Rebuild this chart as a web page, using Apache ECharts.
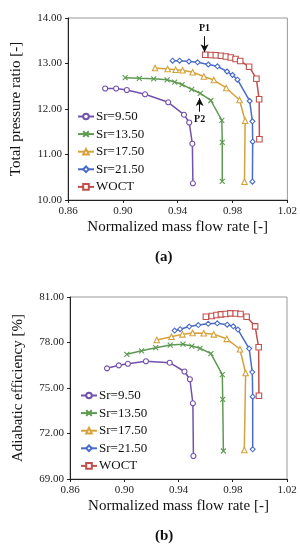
<!DOCTYPE html>
<html><head><meta charset="utf-8">
<script src="https://cdn.jsdelivr.net/npm/echarts@6/dist/echarts.min.js"></script>
<style>html,body{margin:0;padding:0;background:#fff}#c{width:300px;height:550px}</style>
</head><body><div id="c"></div>
<script>
// ---- Data (a): normalized mass flow rate vs total pressure ratio ----
const seriesNames = ['Sr=9.50','Sr=13.50','Sr=17.50','Sr=21.50','WOCT'];
const xTicks = [0.86, 0.90, 0.94, 0.98, 1.02];
const prTicks = [10.00, 11.00, 12.00, 13.00, 14.00];
const effTicks = [69.00, 72.00, 75.00, 78.00, 81.00];

const flowA_950 = [0.8871,0.8951,0.9029,0.9162,0.9331,0.9446,0.9484,0.9507,0.9511];
const prA_950   = [12.451,12.451,12.418,12.323,12.147,11.875,11.703,11.237,10.367];
const flowA_1350 = [0.9017,0.9120,0.9225,0.9323,0.9378,0.9432,0.9502,0.9565,0.9642,0.9722,0.9725,0.9725];
const prA_1350   = [12.688,12.675,12.664,12.642,12.593,12.538,12.433,12.345,12.187,11.752,11.268,10.407];
const flowA_1750 = [0.9235,0.9327,0.9385,0.9436,0.9509,0.9591,0.9664,0.9754,0.9851,0.9892,0.9887];
const prA_1750   = [12.901,12.879,12.864,12.851,12.807,12.714,12.637,12.462,12.198,11.743,10.402];
const flowA_2150 = [0.9363,0.9414,0.9482,0.9545,0.9623,0.9690,0.9760,0.9800,0.9836,0.9925,0.9945,0.9947,0.9945];
const prA_2150   = [13.062,13.062,13.044,13.026,12.978,12.938,12.824,12.747,12.644,12.176,11.730,11.281,10.402];
const flowA_woct = [0.9601,0.9642,0.9678,0.9715,0.9751,0.9787,0.9822,0.9856,0.9921,0.9974,0.9994,0.9996];
const prA_woct   = [13.193,13.187,13.180,13.171,13.154,13.132,13.099,13.055,12.930,12.666,12.213,11.334];

// ---- Data (b): normalized mass flow rate vs adiabatic efficiency ----
const flowB_950 = [0.8873,0.8960,0.9027,0.9160,0.9335,0.9444,0.9484,0.9506,0.9510];
const effB_950  = [76.297,76.495,76.594,76.765,76.667,76.087,75.579,73.990,70.516];
const flowB_1350 = [0.9019,0.9128,0.9232,0.9339,0.9433,0.9498,0.9559,0.9639,0.9723,0.9726,0.9731];
const effB_1350  = [77.220,77.451,77.655,77.833,77.886,77.767,77.616,77.273,75.875,74.254,70.846];
const flowB_1750 = [0.9240,0.9348,0.9429,0.9504,0.9586,0.9660,0.9756,0.9853,0.9895,0.9885];
const effB_1750  = [78.163,78.380,78.539,78.624,78.611,78.539,78.242,77.557,75.988,70.912];
const flowB_2150 = [0.9372,0.9412,0.9479,0.9546,0.9619,0.9686,0.9759,0.9804,0.9838,0.9921,0.9944,0.9947,0.9947];
const effB_2150  = [78.789,78.875,79.053,79.152,79.231,79.264,79.172,79.066,78.855,77.603,76.053,74.425,70.958];
const flowB_woct = [0.9602,0.9645,0.9680,0.9713,0.9748,0.9783,0.9822,0.9857,0.9902,0.9965,0.9991,0.9993];
const effB_woct  = [79.699,79.745,79.811,79.857,79.877,79.923,79.910,79.877,79.699,79.066,77.682,74.485];

// annotations (data coordinates)
const p1 = {label:'P1', x:0.9596, yFrom:13.60, yTo:13.25};
const p2 = {label:'P2', x:0.9560, yFrom:11.94, yTo:12.24};

const colors = ['#7352ab','#5e9a52','#d6a23c','#4a6cc8','#c0504d'];
const crossPath = 'path://M0,0L10,10M10,0L0,10';
const symbols = ['circle', crossPath, 'triangle', 'diamond', 'rect'];
const symSizes = [5, 5, 5.5, 5, 5.5];
const FONT = '"Liberation Serif","Times New Roman",serif';

function zip(a,b){return a.map((v,i)=>[v,b[i]]);}
const setsA = [[flowA_950,prA_950],[flowA_1350,prA_1350],[flowA_1750,prA_1750],[flowA_2150,prA_2150],[flowA_woct,prA_woct]];
const setsB = [[flowB_950,effB_950],[flowB_1350,effB_1350],[flowB_1750,effB_1750],[flowB_2150,effB_2150],[flowB_woct,effB_woct]];

function mkSeries(sets, gi){
  return sets.map((s,i)=>({
    name: seriesNames[i], type:'line', xAxisIndex:gi, yAxisIndex:gi,
    data: zip(s[0], s[1]), symbol: symbols[i], symbolSize: symSizes[i],
    showAllSymbol:true, smooth:false, animation:false,
    lineStyle:{color:colors[i], width:1.5},
    itemStyle:{color: i===1 ? colors[i] : '#fff', borderColor:colors[i], borderWidth:1.1},
    z: 3
  }));
}
const series = mkSeries(setsA,0).concat(mkSeries(setsB,1));

function annot(p){
  return {
    type:'line', xAxisIndex:0, yAxisIndex:0, data:[], silent:true, animation:false,
    markLine:{
      silent:true, animation:false, symbol:['none','arrow'], symbolSize:[6,8],
      lineStyle:{color:'#111', width:1, type:'solid'},
      label:{show:true, position:'start', formatter:p.label, color:'#111', fontFamily:FONT, fontWeight:'bold', fontSize:10, distance:3},
      data:[[{coord:[p.x,p.yFrom]},{coord:[p.x,p.yTo]}]]
    }
  };
}
series.push(annot(p1));
series.push(annot(p2));

function xAx(gi){
  return {type:'value', gridIndex:gi, min:xTicks[0], max:xTicks[xTicks.length-1], interval:0.04,
    name:'Normalized mass flow rate [-]', nameLocation:'middle', nameGap:20,
    nameTextStyle:{fontFamily:FONT, fontSize:15, color:'#111'},
    axisLine:{show:true, onZero:false, lineStyle:{color:'#222', width:1}},
    axisTick:{show:true, inside:false, length:3, lineStyle:{color:'#222'}},
    axisLabel:{fontFamily:FONT, fontSize:11, color:'#222', margin:6, formatter:v=>v.toFixed(2)},
    splitLine:{show:false}};
}
function yAx(gi, ticks, name, interval){
  return {type:'value', gridIndex:gi, min:ticks[0], max:ticks[ticks.length-1], interval:interval,
    name:name, nameLocation:'middle', nameGap:44,
    nameTextStyle:{fontFamily:FONT, fontSize:15, color:'#111'},
    axisLine:{show:true, onZero:false, lineStyle:{color:'#222', width:1}},
    axisTick:{show:true, inside:false, length:3, lineStyle:{color:'#222'}},
    axisLabel:{fontFamily:FONT, fontSize:11, color:'#222', margin:6, formatter:v=>v.toFixed(2)},
    splitLine:{show:false}};
}
function legend(left, top){
  return {orient:'vertical', left:left, top:top, itemWidth:16, itemHeight:7, itemGap:4.6,
    data: seriesNames.slice(), textStyle:{fontFamily:FONT, fontSize:13, color:'#111', padding:[0,0,0,-3]},
    selectedMode:false};
}

const chart = echarts.init(document.getElementById('c'), null, {renderer:'canvas'});
chart.setOption({
  backgroundColor:'#fff',
  animation:false,
  grid:[
    {left:68, top:18, width:220, height:182, show:true, borderColor:'#999', borderWidth:1, backgroundColor:'transparent'},
    {left:70, top:297, width:217, height:182, show:true, borderColor:'#999', borderWidth:1, backgroundColor:'transparent'}
  ],
  xAxis:[xAx(0), xAx(1)],
  yAxis:[yAx(0, prTicks, 'Total pressure ratio [-]', 1), yAx(1, effTicks, 'Adiabatic efficiency [%]', 3)],
  legend:[legend(72,105), legend(75,384)],
  title:[
    {text:'(a)', left:155, top:250, textStyle:{fontFamily:FONT, fontSize:15, fontWeight:'bold', color:'#111'}, padding:0},
    {text:'(b)', left:155, top:529, textStyle:{fontFamily:FONT, fontSize:15, fontWeight:'bold', color:'#111'}, padding:0}
  ],
  series: series
});
</script></body></html>
